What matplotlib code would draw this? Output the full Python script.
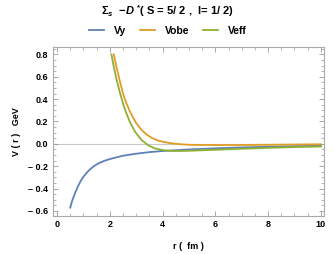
import matplotlib.pyplot as plt
from matplotlib.ticker import MultipleLocator, FixedLocator

# Potentials (r in fm, V in GeV)
r_vy = [0.5, 0.55, 0.6, 0.7, 0.8, 0.9, 1.0, 1.2, 1.4, 1.6, 1.8, 2.0, 2.5,
        3.0, 3.5, 4.0, 5.0, 6.0, 7.0, 8.0, 9.0, 10.0]
v_vy = [-0.57, -0.525, -0.49, -0.43, -0.375, -0.33, -0.293, -0.238, -0.198,
        -0.171, -0.151, -0.136, -0.106, -0.088, -0.074, -0.064, -0.050, -0.040,
        -0.032, -0.026, -0.021, -0.017]

r_vobe = [2.15, 2.25, 2.38, 2.5, 2.6, 2.76, 2.88, 3.0, 3.2, 3.4, 3.6, 3.8,
          4.0, 4.3, 4.7, 5.0, 5.5, 6.0, 7.0, 8.0, 9.0, 10.0]
v_vobe = [0.8, 0.69, 0.56, 0.45, 0.38, 0.29, 0.235, 0.185, 0.125, 0.082, 0.052,
          0.032, 0.019, 0.006, -0.004, -0.008, -0.010, -0.011, -0.010, -0.008,
          -0.006, -0.004]

r_veff = [2.06, 2.15, 2.25, 2.38, 2.5, 2.6, 2.76, 2.95, 3.2, 3.45, 3.7, 4.0,
          4.3, 4.7, 5.0, 6.0, 7.0, 8.0, 9.0, 10.0]
v_veff = [0.8, 0.69, 0.58, 0.46, 0.36, 0.29, 0.195, 0.11, 0.035, -0.012, -0.040,
          -0.056, -0.063, -0.064, -0.062, -0.053, -0.044, -0.036, -0.029, -0.024]

x_ticks = [0, 2, 4, 6, 8, 10]
x_labels = ["0", "2", "4", "6", "8", "10"]
y_ticks = [-0.6, -0.4, -0.2, 0.0, 0.2, 0.4, 0.6, 0.8]
y_labels = ["\u2013 0.6", "\u2013 0.4", "\u2013 0.2", "0.0", "0.2", "0.4", "0.6", "0.8"]

plt.rcParams['font.family'] = ['Liberation Sans', 'DejaVu Sans']
plt.rcParams['font.weight'] = 'bold'
plt.rcParams['mathtext.fontset'] = 'custom'
plt.rcParams['mathtext.rm'] = 'Liberation Sans:bold'
plt.rcParams['mathtext.it'] = 'Liberation Sans:italic:bold'
plt.rcParams['mathtext.bf'] = 'Liberation Sans:bold'

fig = plt.figure(figsize=(3.35, 2.54), dpi=100)
ax = fig.add_axes([0.157, 0.150, 0.811, 0.666])

ax.axhline(0, color='#c8c8c8', lw=0.8, zorder=1)
ax.plot(r_vy, v_vy, color='#5E81B5', lw=1.3, label='Vy')
ax.plot(r_vobe, v_vobe, color='#E19C24', lw=1.3, label='Vobe')
ax.plot(r_veff, v_veff, color='#8FB032', lw=1.3, label='Veff')

ax.set_xlim(-0.17, 10.13)
ax.set_ylim(-0.644, 0.868)

ax.xaxis.set_major_locator(FixedLocator(x_ticks))
ax.set_xticklabels(x_labels, fontweight='bold')
ax.xaxis.set_minor_locator(MultipleLocator(0.5))
ax.yaxis.set_major_locator(FixedLocator(y_ticks))
ax.set_yticklabels(y_labels, fontweight='bold')
ax.yaxis.set_minor_locator(MultipleLocator(0.05))

ax.tick_params(which='both', direction='in', top=True, right=True,
               color='#999999', labelsize=6.5, pad=3)
ax.tick_params(which='major', length=3.5, width=0.6)
ax.tick_params(which='minor', length=2, width=0.5)
for s in ax.spines.values():
    s.set_color('#aaaaaa')
    s.set_linewidth(0.8)

ax.set_xlabel('r (  fm )', fontsize=6.5, fontweight='bold', labelpad=9)
ax.set_ylabel('V ( r )   GeV', fontsize=6.5, fontweight='bold', labelpad=5)

fig.text(0.5, 0.955, r'$\Sigma_s$  $-D$ $^{*}$( S = 5/ 2 ,  I= 1/ 2)',
         ha='center', va='center', fontsize=8, fontweight='bold')
leg = fig.legend(loc='center', bbox_to_anchor=(0.5, 0.878), ncol=3, frameon=False,
                 fontsize=7.5, handlelength=1.5, columnspacing=1.3, handletextpad=0.9)
for t in leg.get_texts():
    t.set_fontweight('bold')

fig.savefig('out.png', dpi=100)
